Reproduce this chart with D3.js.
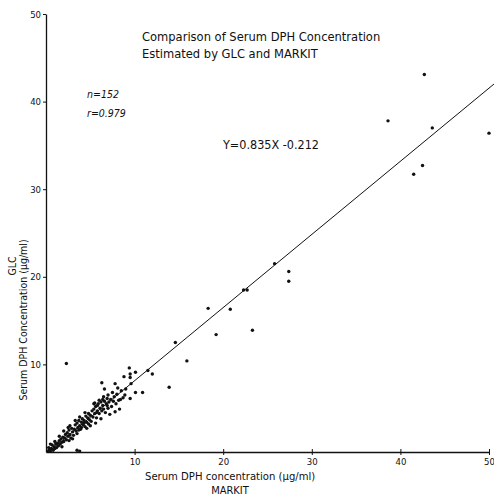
<!DOCTYPE html>
<html><head><meta charset="utf-8">
<script src="https://cdn.jsdelivr.net/npm/d3@7"></script>
<style>body{margin:0;background:#fff}svg{display:block}</style>
</head><body>
<svg id="c" width="494" height="496"></svg>
<script>
// Tick values
const xTicks = [10, 20, 30, 40, 50];
const yTicks = [10, 20, 30, 40, 50];
// Regression: Y = 0.835X - 0.212
const slope = 0.835, intercept = -0.212;
const lineRange = [0.3, 50.6];
// MARKIT values (x) and GLC values (y), n = 152
const markit = [
 42.7,38.6,43.6,50.0,42.5,41.5,25.8,27.4,27.4,22.3,22.7,18.3,20.8,23.3,19.2,14.6,15.9,13.9,2.3,
 9.4,10.1,8.8,9.5,9.5,11.5,12.0,6.3,7.8,9.6,6.6,7.5,8.9,10.1,10.9,9.5,8.4,7.4,3.5,3.8,
 0.2,0.4,0.5,0.6,0.3,0.8,0.9,0.7,1.0,1.1,1.2,0.5,
 1.3,1.4,1.5,1.6,1.7,1.8,1.9,2.0,1.5,2.1,2.2,1.8,
 2.3,2.4,2.5,2.6,2.7,2.8,2.9,3.0,2.5,3.1,2.7,3.2,
 3.3,3.4,3.5,3.6,3.7,3.8,3.9,4.0,3.5,4.1,3.3,4.2,3.7,
 4.3,4.4,4.5,4.6,4.7,4.8,4.9,5.0,4.4,4.6,5.1,4.8,5.2,4.3,
 5.3,5.4,5.5,5.6,5.7,5.8,5.9,6.0,5.5,5.8,6.1,6.2,5.6,6.3,5.4,
 6.4,6.5,6.6,6.7,6.8,6.9,7.0,6.5,7.1,7.2,6.2,7.3,6.9,7.6,
 7.7,7.9,8.0,8.2,8.5,8.7,8.3,7.8,9.0,8.1,
 1.0,2.0,3.0,4.0,5.0,6.0,7.0,2.6,3.8,5.7,6.4
];
const glc = [
 43.1,37.8,37.0,36.4,32.7,31.7,21.5,20.6,19.5,18.5,18.5,16.4,16.3,13.9,13.4,12.5,10.4,7.4,10.1,
 9.6,9.1,8.6,8.9,8.5,9.3,8.9,7.9,7.8,7.8,7.2,6.8,6.5,6.8,6.8,6.1,6.0,5.2,0.2,0.1,
 0.1,0.3,0.1,0.4,0.5,0.2,0.6,0.8,0.4,0.9,0.5,0.9,
 1.0,0.7,1.3,0.9,1.5,1.1,1.7,1.2,1.8,1.6,2.0,0.6,
 1.4,2.2,1.8,2.5,2.0,1.6,2.7,2.3,2.8,1.9,3.0,2.6,
 3.1,2.4,3.3,2.8,3.6,3.0,2.6,3.4,2.1,3.8,3.6,3.1,2.5,
 3.6,2.9,4.1,3.4,3.9,4.4,3.7,4.2,4.5,2.7,3.5,3.2,4.7,3.3,
 4.0,4.9,4.4,5.2,3.9,4.7,5.5,4.4,5.6,5.3,5.0,5.7,3.3,4.7,5.5,
 5.3,4.9,5.8,4.5,5.5,6.1,5.0,6.3,5.7,4.3,3.8,6.0,5.3,5.8,
 6.3,5.5,6.6,5.9,7.0,6.2,4.9,4.6,7.2,7.3,
 1.2,2.4,1.5,2.8,3.0,5.9,6.5,1.3,4.0,4.5,6.0
];
const titleLines = ["Comparison of Serum DPH Concentration", "Estimated by GLC and MARKIT"];
const statLines = ["n=152", "r=0.979"];
const eqText = "Y=0.835X -0.212";
const xLabel = ["Serum DPH concentration (μg/ml)", "MARKIT"];
const yLabel = ["Serum DPH Concentration (μg/ml)", "GLC"];

const svg = d3.select("#c");
const x = d3.scaleLinear().domain([0, 50]).range([46, 489]);
const y = d3.scaleLinear().domain([0, 50]).range([452, 14]);
const font = "'DejaVu Sans Condensed','DejaVu Sans',sans-serif";

// axes
const xAxis = svg.append("g").attr("transform", `translate(0,${y(0)})`)
  .call(d3.axisBottom(x).tickValues(xTicks).tickSize(3).tickSizeOuter(0).tickPadding(3));
const yAxis = svg.append("g").attr("transform", `translate(${x(0)},0)`)
  .call(d3.axisLeft(y).tickValues(yTicks).tickSize(3).tickSizeOuter(0).tickPadding(2));
[xAxis, yAxis].forEach(g => {
  g.select(".domain").attr("stroke", "#111").attr("stroke-width", 1.3);
  g.selectAll(".tick line").attr("stroke", "#111").attr("stroke-width", 1);
  g.selectAll("text").attr("font-family", font).attr("font-size", 9.5).attr("fill", "#111");
});
xAxis.selectAll(".tick line").attr("y1", -3);

// regression line
svg.append("line")
  .attr("x1", x(lineRange[0])).attr("y1", y(slope * lineRange[0] + intercept))
  .attr("x2", x(lineRange[1])).attr("y2", y(slope * lineRange[1] + intercept))
  .attr("stroke", "#111").attr("stroke-width", 1);

// points
svg.append("g").selectAll("circle").data(markit.map((d, i) => [d, glc[i]]))
  .join("circle").attr("cx", d => x(d[0])).attr("cy", d => y(d[1]))
  .attr("r", 1.7).attr("fill", "#111");

// title
svg.append("text").attr("font-family", font).attr("font-size", 12.8).attr("fill", "#111")
  .selectAll("tspan").data(titleLines).join("tspan")
  .attr("x", 142).attr("y", (d, i) => 41 + i * 17).text(d => d);

// stats
svg.append("text").attr("font-family", font).attr("font-size", 10.5).attr("fill", "#111")
  .attr("font-style", "italic")
  .selectAll("tspan").data(statLines).join("tspan")
  .attr("x", 87).attr("y", (d, i) => 98 + i * 19).text(d => d);

// equation
svg.append("text").attr("font-family", font).attr("font-size", 12.5).attr("fill", "#111")
  .attr("x", 223).attr("y", 149).text(eqText);

// x label
svg.append("text").attr("font-family", font).attr("font-size", 11.2).attr("fill", "#111")
  .attr("x", 145).attr("y", 480).text(xLabel[0]);
svg.append("text").attr("font-family", font).attr("font-size", 11).attr("fill", "#111")
  .attr("x", 230).attr("y", 494).attr("text-anchor", "middle").text(xLabel[1]);

// y label
svg.append("text").attr("font-family", font).attr("font-size", 10.5).attr("fill", "#111")
  .attr("transform", "translate(27,320) rotate(-90)").attr("text-anchor", "middle").text(yLabel[0]);
svg.append("text").attr("font-family", font).attr("font-size", 10.5).attr("fill", "#111")
  .attr("transform", "translate(16,266) rotate(-90)").attr("text-anchor", "middle").text(yLabel[1]);
</script>
</body></html>
